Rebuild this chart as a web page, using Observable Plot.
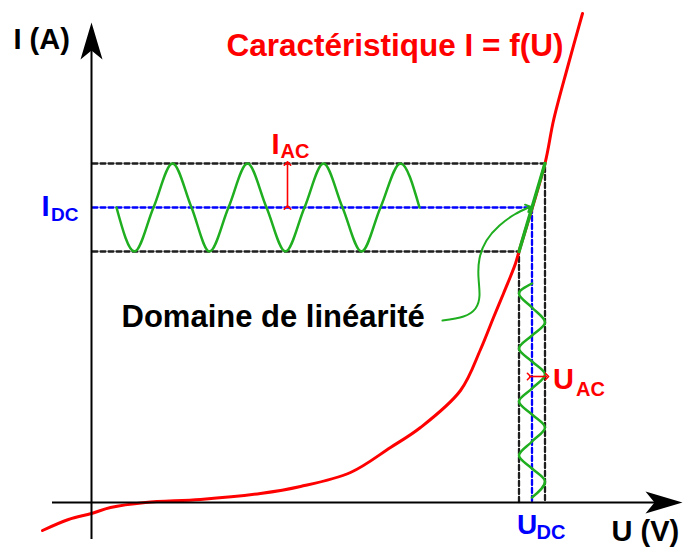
<!DOCTYPE html>
<html>
<head>
<meta charset="utf-8">
<script src="https://cdn.jsdelivr.net/npm/d3@7"></script>
<script src="https://cdn.jsdelivr.net/npm/@observablehq/plot@0.6"></script>
<style>
html, body { margin: 0; padding: 0; background: #ffffff; overflow: hidden; }
#chart svg { display: block; }
</style>
</head>
<body>
<div id="chart"></div>
<script>
// ---- values (arbitrary units, origin at the axes crossing) ----
// Characteristic I = f(U)
const curveU = [-49, -23, 0, 19, 54, 109, 169, 209, 259, 299, 329, 369, 389, 402, 412, 424, 427.5, 453.5, 462, 476, 491];
const curveI = [-28, -17, -11, -5, 0, 3, 9, 16, 30, 55, 75, 112, 153, 185, 209, 239, 251, 339, 382, 435, 489];

// operating point and small-signal amplitudes
const Udc = 440.5, Uac = 13;
const Idc = 295, Iac = 44;

// current wave I(t), drawn along the U axis (extrema and crossings)
const iWaveU = [25, 43, 62, 81, 100, 118, 137, 156, 175, 194, 213, 232, 251, 270, 289, 309, 328];
const iWaveI = [295, 251, 295, 339, 295, 251, 295, 339, 295, 251, 295, 339, 295, 251, 295, 339, 295];

// voltage wave U(t), drawn along the I axis (extrema and crossings)
const uWaveU = [440.5, 427.5, 440.5, 453.5, 440.5, 427.5, 440.5, 453.5, 440.5, 427.5, 440.5, 453.5, 440.5, 427.5, 440.5, 453.5, 440.5];
const uWaveI = [219, 209, 195, 180, 167, 154, 141, 128, 114, 101, 88, 75, 61, 47, 34, 21, 5];

// pointer from the "Domaine de linéarité" label to the operating point
const pointerU = [351, 372, 384, 388, 387, 388, 395, 408, 423, 437];
const pointerI = [182, 186, 194, 207, 225, 244, 262, 277, 288, 295];

// axes extents
const axisU = [-39, 591];
const axisI = [-37, 480];

// ---- build tables ----
const curve = curveU.map((u, k) => ({u, i: curveI[k]}));
const iWave = iWaveU.map((u, k) => ({u, i: iWaveI[k]}));
const uWave = uWaveU.map((u, k) => ({u, i: uWaveI[k]}));
const pointer = pointerU.map((u, k) => ({u, i: pointerI[k]}));
const Umin = Udc - Uac, Umax = Udc + Uac, Imin = Idc - Iac, Imax = Idc + Iac;
const linear = [{u: Umin, i: Imin}, {u: Umax, i: Imax}];
const guides = [
  {g: "top", pts: [[1, Imax], [Umax, Imax], [Umax, 0]], c: "#1e1e1e"},
  {g: "bot", pts: [[1, Imin], [Umin, Imin], [Umin, 0]], c: "#1e1e1e"},
  {g: "dc",  pts: [[1, Idc], [Udc, Idc], [Udc, 0]], c: "#0000ff"}
].flatMap(d => d.pts.map(([u, i]) => ({g: d.g, u, i, c: d.c})));

const RED = "#ff0000", GREEN = "#1fae1f", BLUE = "#0000ff";
const FONT = "'Liberation Sans', Arial, Helvetica, sans-serif";

// filled notched arrow head, tip at origin pointing up
const arrowHead = {
  draw(ctx) {
    ctx.moveTo(0, 0);
    ctx.lineTo(11, 37);
    ctx.lineTo(0, 28);
    ctx.lineTo(-11, 37);
    ctx.closePath();
  }
};

function label(u, i, txt, o) {
  return Plot.text([{u, i}], Object.assign({
    x: "u", y: "i", text: () => txt,
    fontFamily: FONT, fontWeight: "bold", textAnchor: "start", lineAnchor: "bottom"
  }, o));
}
function frameLabel(txt, o) {
  return Plot.text([txt], Object.assign({
    frameAnchor: "top-left", text: d => d,
    fontFamily: FONT, fontWeight: "bold", textAnchor: "start", lineAnchor: "bottom"
  }, o));
}

const chart = Plot.plot({
  width: 683,
  height: 547,
  margin: 0,
  style: {background: "#ffffff"},
  x: {domain: [-91, 592], axis: null},
  y: {domain: [-45, 502], axis: null},
  marks: [
    // dashed guides
    Plot.line(guides, {x: "u", y: "i", z: "g", stroke: "c", strokeWidth: 2.3, strokeDasharray: "5,3"}),
    // characteristic
    Plot.line(curve, {x: "u", y: "i", stroke: RED, strokeWidth: 3, curve: "catmull-rom"}),
    // linear domain
    Plot.line(linear, {x: "u", y: "i", stroke: GREEN, strokeWidth: 3.4}),
    // waves
    Plot.line(iWave, {x: "u", y: "i", stroke: GREEN, strokeWidth: 2.5, curve: "monotone-x"}),
    Plot.line(uWave, {x: "u", y: "i", stroke: GREEN, strokeWidth: 2.5, curve: "monotone-y"}),
    // pointer
    Plot.line(pointer, {x: "u", y: "i", stroke: GREEN, strokeWidth: 2, curve: "natural", markerEnd: "arrow"}),
    // amplitude arrows
    Plot.link([{u: 196}], {x1: "u", x2: "u", y1: Idc, y2: Imax, stroke: RED, strokeWidth: 1.6, markerStart: "arrow", markerEnd: "arrow"}),
    Plot.link([{i: 126}], {x1: Udc - 3, x2: Umax + 2, y1: "i", y2: "i", stroke: RED, strokeWidth: 1.6, markerStart: "arrow", markerEnd: "arrow"}),
    // axes
    Plot.ruleX([0], {y1: axisI[0], y2: axisI[1] - 10, stroke: "#000", strokeWidth: 2}),
    Plot.ruleY([0], {x1: axisU[0], x2: axisU[1] - 10, stroke: "#000", strokeWidth: 2}),
    Plot.dot([{u: 0, i: axisI[1]}], {x: "u", y: "i", symbol: arrowHead, fill: "#000", stroke: null, r: 10}),
    Plot.dot([{u: axisU[1], i: 0}], {x: "u", y: "i", symbol: arrowHead, fill: "#000", stroke: null, r: 10, rotate: 90}),
    // texts
    frameLabel("Caractéristique I = f(U)", {dx: 226, dy: 55, fontSize: 31.5, fill: RED}),
    frameLabel("I (A)", {dx: 13, dy: 48, fontSize: 29, fill: "#000"}),
    frameLabel("U (V)", {dx: 611, dy: 540, fontSize: 29, fill: "#000"}),
    label(pointerU[0], pointerI[0], "Domaine de linéarité", {dx: -321, dy: 6, fontSize: 31, fill: "#000"}),
    label(0, Idc, "I", {dx: -50, dy: 8, fontSize: 29, fill: BLUE}),
    label(0, Idc, "DC", {dx: -40.5, dy: 13, fontSize: 19, fill: BLUE}),
    label(196, Imax, "I", {dx: -16, dy: -10, fontSize: 29, fill: RED}),
    label(196, Imax, "AC", {dx: -7, dy: -6, fontSize: 20, fill: RED}),
    label(Umax, 126, "U", {dx: 8, dy: 12, fontSize: 29, fill: RED}),
    label(Umax, 126, "AC", {dx: 31, dy: 19, fontSize: 20, fill: RED}),
    label(Udc, 0, "U", {dx: -15, dy: 31, fontSize: 28, fill: BLUE}),
    label(Udc, 0, "DC", {dx: 4.5, dy: 36, fontSize: 20, fill: BLUE})
  ]
});
document.getElementById("chart").append(chart);
</script>
</body>
</html>
